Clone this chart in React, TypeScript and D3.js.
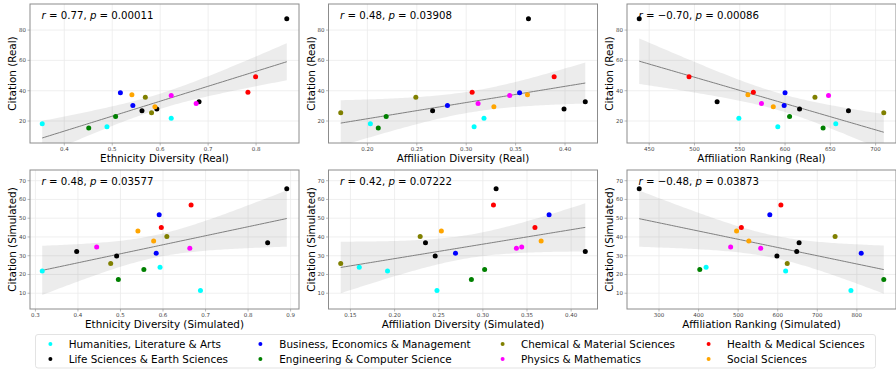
import React from "react";
import * as d3 from "d3";

// categories in legend order (column-major, 2 rows x 4 columns)
const categories = [
  "Humanities, Literature & Arts",
  "Life Sciences & Earth Sciences",
  "Business, Economics & Management",
  "Engineering & Computer Science",
  "Chemical & Material Sciences",
  "Physics & Mathematics",
  "Health & Medical Sciences",
  "Social Sciences",
];
const categoryColors = ["#00ffff", "#000000", "#0000ff", "#008000", "#808000", "#ff00ff", "#ff0000", "#ffa500"];

// one entry per field, index into categories
const realGroup = [0, 0, 0, 2, 2, 4, 4, 6, 6, 1, 1, 1, 1, 3, 3, 5, 5, 7, 7];
const realCitation = [18.2, 16.3, 21.8, 38.7, 30.3, 35.6, 25.5, 38.9, 49.2, 26.8, 27.9, 32.7, 87.5, 15.4, 22.9, 36.9, 31.6, 37.4, 29.4];
const realEthnicity = [0.354, 0.489, 0.623, 0.517, 0.543, 0.569, 0.582, 0.783, 0.799, 0.562, 0.593, 0.681, 0.864, 0.451, 0.507, 0.623, 0.675, 0.541, 0.589];
const realAffDiversity = [0.203, 0.308, 0.318, 0.354, 0.281, 0.249, 0.173, 0.306, 0.389, 0.266, 0.399, 0.4205, 0.363, 0.211, 0.219, 0.344, 0.312, 0.362, 0.328];
const realRanking = [656, 592, 549, 600, 599, 633, 709, 565, 494, 670, 616, 525, 439, 642, 605, 648, 574, 559, 587];

const simGroup = [0, 0, 0, 2, 2, 4, 4, 6, 6, 1, 1, 1, 1, 3, 3, 5, 5, 7, 7];
const simCitation = [21.9, 23.8, 11.4, 31.3, 51.9, 25.8, 40.2, 45.1, 57.0, 32.2, 29.9, 36.9, 65.7, 17.3, 22.6, 34.7, 34.0, 43.2, 37.9];
const simEthnicity = [0.316, 0.593, 0.688, 0.584, 0.591, 0.477, 0.609, 0.596, 0.666, 0.397, 0.491, 0.846, 0.891, 0.495, 0.555, 0.444, 0.663, 0.541, 0.578];
const simAffDiversity = [0.192, 0.16, 0.248, 0.269, 0.375, 0.139, 0.229, 0.359, 0.312, 0.416, 0.246, 0.235, 0.315, 0.287, 0.302, 0.344, 0.338, 0.253, 0.366];
const simRanking = [620, 419, 785, 811, 580, 624, 745, 508, 608, 648, 598, 654, 250, 868, 403, 481, 557, 496, 527];

// tick values
const ethRealTicks = [0.4, 0.5, 0.6, 0.7, 0.8];
const affRealTicks = [0.2, 0.25, 0.3, 0.35, 0.4];
const rankRealTicks = [450, 500, 550, 600, 650, 700];
const ethSimTicks = [0.3, 0.4, 0.5, 0.6, 0.7, 0.8, 0.9];
const affSimTicks = [0.15, 0.2, 0.25, 0.3, 0.35, 0.4];
const rankSimTicks = [300, 400, 500, 600, 700, 800];
const citRealTicks = [20, 40, 60, 80];
const citSimTicks = [10, 20, 30, 40, 50, 60, 70];
const citRealDomain = [5.5, 97.2];
const citSimDomain = [1.6, 75.7];

// annotation values
const stats = [
  ["0.77", "0.00011"],
  ["0.48", "0.03908"],
  ["\u22120.70", "0.00086"],
  ["0.48", "0.03577"],
  ["0.42", "0.07222"],
  ["\u22120.48", "0.03873"],
];

const W = 896;
const H = 371;
const FONT = "DejaVu Sans";
const colLeft = [30, 328.5, 627];
const rowTop = [4, 170];
const plotW = 269;
const plotH = 139;
const yLabelX = [12, 311, 609];

const panels = [
  { xs: realEthnicity, ys: realCitation, g: realGroup, xt: ethRealTicks, fmt: d3.format(".1f"), yt: citRealTicks, yd: citRealDomain, xl: "Ethnicity Diversity (Real)", yl: "Citation (Real)" },
  { xs: realAffDiversity, ys: realCitation, g: realGroup, xt: affRealTicks, fmt: d3.format(".2f"), yt: citRealTicks, yd: citRealDomain, xl: "Affiliation Diversity (Real)", yl: "Citation (Real)" },
  { xs: realRanking, ys: realCitation, g: realGroup, xt: rankRealTicks, fmt: d3.format("d"), yt: citRealTicks, yd: citRealDomain, xl: "Affiliation Ranking (Real)", yl: "Citation (Real)" },
  { xs: simEthnicity, ys: simCitation, g: simGroup, xt: ethSimTicks, fmt: d3.format(".1f"), yt: citSimTicks, yd: citSimDomain, xl: "Ethnicity Diversity (Simulated)", yl: "Citation (Simulated)" },
  { xs: simAffDiversity, ys: simCitation, g: simGroup, xt: affSimTicks, fmt: d3.format(".2f"), yt: citSimTicks, yd: citSimDomain, xl: "Affiliation Diversity (Simulated)", yl: "Citation (Simulated)" },
  { xs: simRanking, ys: simCitation, g: simGroup, xt: rankSimTicks, fmt: d3.format("d"), yt: citSimTicks, yd: citSimDomain, xl: "Affiliation Ranking (Simulated)", yl: "Citation (Simulated)" },
];

// least squares fit + 95% confidence band of the mean
function regression(xs: number[], ys: number[]) {
  const n = xs.length;
  const mx = d3.mean(xs)!;
  const my = d3.mean(ys)!;
  let sxx = 0, sxy = 0;
  xs.forEach((x, i) => {
    sxx += (x - mx) ** 2;
    sxy += (x - mx) * (ys[i] - my);
  });
  const b = sxy / sxx;
  const a = my - b * mx;
  const sse = d3.sum(xs, (x, i) => (ys[i] - a - b * x) ** 2);
  const s = Math.sqrt(sse / (n - 2));
  const t = 2.11;
  const [x0, x1] = d3.extent(xs) as [number, number];
  const grid = d3.range(100).map((i) => x0 + ((x1 - x0) * i) / 99);
  return grid.map((x) => {
    const yh = a + b * x;
    const se = s * Math.sqrt(1 / n + (x - mx) ** 2 / sxx);
    return { x, y: yh, lo: yh - t * se, hi: yh + t * se };
  });
}

function Panel({ p, idx }: { p: any; idx: number }) {
  const col = idx % 3;
  const row = Math.floor(idx / 3);
  const left = colLeft[col];
  const top = rowTop[row];
  const [e0, e1] = d3.extent(p.xs as number[]) as [number, number];
  const pad = (e1 - e0) * 0.05;
  const x = d3.scaleLinear().domain([e0 - pad, e1 + pad]).range([left, left + plotW]);
  const y = d3.scaleLinear().domain(p.yd).range([top + plotH, top]);
  const fitPts = regression(p.xs, p.ys);
  const band = d3.area<any>().x((d) => x(d.x)).y0((d) => y(d.lo)).y1((d) => y(d.hi));
  const line = d3.line<any>().x((d) => x(d.x)).y((d) => y(d.y));
  const clipId = `clip${idx}`;
  const [r, pv] = stats[idx];
  const bottom = top + plotH;

  return (
    <g>
      <clipPath id={clipId}>
        <rect x={left} y={top} width={plotW} height={plotH} />
      </clipPath>
      {/* grid */}
      {p.xt.map((t: number) => (
        <line key={"gx" + t} x1={x(t)} x2={x(t)} y1={top} y2={bottom} stroke="#ebebeb" strokeWidth={0.8} />
      ))}
      {p.yt.map((t: number) => (
        <line key={"gy" + t} x1={left} x2={left + plotW} y1={y(t)} y2={y(t)} stroke="#ebebeb" strokeWidth={0.8} />
      ))}
      <g clipPath={`url(#${clipId})`}>
        <path d={band(fitPts)!} fill="#808080" fillOpacity={0.15} />
        <path d={line(fitPts)!} fill="none" stroke="#7f7f7f" strokeWidth={1} />
        {p.xs.map((v: number, i: number) => (
          <circle key={i} cx={x(v)} cy={y(p.ys[i])} r={2.5} fill={categoryColors[p.g[i]]} />
        ))}
      </g>
      {/* frame */}
      <rect x={left} y={top} width={plotW} height={plotH} fill="none" stroke="#8c8c8c" strokeWidth={1} />
      {/* ticks */}
      {p.xt.map((t: number) => (
        <g key={"tx" + t}>
          <line x1={x(t)} x2={x(t)} y1={bottom} y2={bottom + 2.5} stroke="#8c8c8c" strokeWidth={0.6} />
          <text x={x(t)} y={bottom + 7.5} textAnchor="middle" fontSize={5.5} fill="#444">
            {p.fmt(t)}
          </text>
        </g>
      ))}
      {p.yt.map((t: number) => (
        <g key={"ty" + t}>
          <line x1={left - 2.5} x2={left} y1={y(t)} y2={y(t)} stroke="#8c8c8c" strokeWidth={0.6} />
          <text x={left - 4} y={y(t) + 2} textAnchor="end" fontSize={5.5} fill="#444">
            {t}
          </text>
        </g>
      ))}
      {/* axis labels */}
      <text x={left + plotW / 2} y={bottom + 19} textAnchor="middle" fontSize={10.4} fill="#000">
        {p.xl}
      </text>
      <text
        transform={`translate(${yLabelX[col] + 3.8},${top + plotH / 2}) rotate(-90)`}
        textAnchor="middle"
        fontSize={10.4}
        fill="#000"
      >
        {p.yl}
      </text>
      {/* r / p annotation */}
      <text x={left + 11.5} y={top + 15} fontSize={10.2} fill="#000">
        <tspan fontStyle="italic">r</tspan>
        {` = ${r}, `}
        <tspan fontStyle="italic">p</tspan>
        {` = ${pv}`}
      </text>
    </g>
  );
}

function Legend() {
  const markerX = [50.4, 260.4, 502.6, 708.6];
  const textX = [68.7, 279.3, 520.9, 727];
  const rowY = [344, 359];
  return (
    <g>
      <rect x={35.5} y={334.5} width={840} height={33.5} rx={2.5} fill="#fff" stroke="#dcdcdc" strokeWidth={0.8} />
      {categories.map((c, i) => {
        const col = Math.floor(i / 2);
        const row = i % 2;
        return (
          <g key={c}>
            <circle cx={markerX[col]} cy={rowY[row]} r={2} fill={categoryColors[i]} />
            <text x={textX[col]} y={rowY[row] + 3.7} fontSize={10.4} fill="#000">
              {c}
            </text>
          </g>
        );
      })}
    </g>
  );
}

export default function App() {
  return (
    <div style={{ position: "absolute", left: 0, top: 0 }}>
      <style>{"body{margin:0}"}</style>
      <svg width={W} height={H} viewBox={`0 0 ${W} ${H}`} style={{ display: "block", background: "#fff" }} fontFamily={FONT}>
        {panels.map((p, i) => (
          <Panel key={i} p={p} idx={i} />
        ))}
        <Legend />
      </svg>
    </div>
  );
}
